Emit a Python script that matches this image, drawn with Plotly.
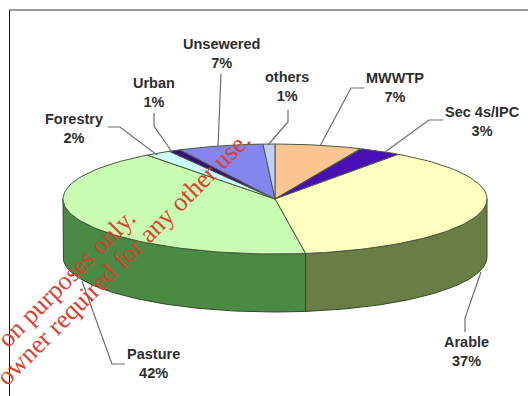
import numpy as np
import plotly.graph_objects as go

# Data, clockwise from the top of the pie
categories = ["MWWTP", "Sec 4s/IPC", "Arable", "Pasture", "Forestry", "Urban", "Unsewered", "others"]
labelled_pct = [7, 3, 37, 42, 2, 1, 7, 1]
slice_shares = [6.6, 3.3, 37.8, 42.0, 2.0, 0.9, 6.5, 0.9]
top_colors = ["#FBC592", "#4A0FB4", "#FFFFC0", "#C8FDB2", "#CCFFFA", "#3A0E78", "#8585F0", "#C4CCF8"]
side_colors = ["#8A6A4A", "#2A0A60", "#6B7D46", "#4A8A44", "#5A8A88", "#200840", "#4A4A88", "#6A7088"]
label_pos = [(395, 87), (482, 121), (466, 351), (153, 363), (74, 128), (154, 92), (221, 53), (287, 86)]
leader_paths = [
    [(364, 88), (351, 88), (320, 146)],
    [(443, 120), (429, 120), (385, 152)],
    [(465, 332), (465, 318), (481, 272)],
    [(125, 364), (112, 364), (82, 281)],
    [(108, 127), (120, 127), (157, 155)],
    [(154, 113), (154, 126), (172, 152)],
    [(221, 74), (218, 147)],
    [(288, 110), (288, 122), (268, 145)],
]

# Pie geometry in page pixels
CX, CY, A, B, DEPTH = 275, 199, 212, 55, 58


def rim(t):
    return CX + A * np.sin(t), CY - B * np.cos(t)


fig = go.Figure()
edges = np.cumsum([0] + slice_shares) / sum(slice_shares) * 2 * np.pi

# Front wall of the cylinder: only the part facing the viewer
for i in range(len(categories)):
    lo, hi = max(edges[i], np.pi / 2), min(edges[i + 1], 3 * np.pi / 2)
    if hi <= lo:
        continue
    t = np.linspace(lo, hi, 80)
    x, y = rim(t)
    fig.add_trace(go.Scatter(
        x=np.r_[x, x[::-1], x[0]], y=np.r_[y, y[::-1] + DEPTH, y[0]],
        mode="lines", fill="toself", fillcolor=side_colors[i],
        line=dict(color="#2F4A2A", width=1), hoverinfo="skip", showlegend=False))

# Top face
for i, name in enumerate(categories):
    t = np.linspace(edges[i], edges[i + 1], 80)
    x, y = rim(t)
    fig.add_trace(go.Scatter(
        x=np.r_[CX, x, CX], y=np.r_[CY, y, CY],
        mode="lines", fill="toself", fillcolor=top_colors[i], name=name,
        line=dict(color="#4A5A40", width=1), hoverinfo="name", showlegend=False))

shapes = [
    dict(type="line", x0=9.5, x1=528, y0=10, y1=10, line=dict(color="#777777", width=1.5)),
    dict(type="line", x0=9.5, x1=9.5, y0=10, y1=396, line=dict(color="#111111", width=1)),
]
for pts in leader_paths:
    path = "M" + " L".join(f"{px},{py}" for px, py in pts)
    shapes.append(dict(type="path", path=path, line=dict(color="#6E6E6E", width=1.2)))

annotations = [
    dict(x=px, y=py, text=f"<b>{n}<br>{v}%</b>", showarrow=False,
         font=dict(family="Liberation Sans", size=14.5, color="#2E2E2E"))
    for n, v, (px, py) in zip(categories, labelled_pct, label_pos)
]
for text, px, py in [("on purposes only.", 66, 278),
                     ("owner required for any other use.", 123, 258)]:
    annotations.append(dict(x=px, y=py, text=text, textangle=-45, showarrow=False,
                            font=dict(family="Liberation Serif", size=26, color="#D8402F")))

fig.update_layout(
    width=528, height=396, margin=dict(l=0, r=0, t=0, b=0),
    paper_bgcolor="white", plot_bgcolor="white",
    xaxis=dict(range=[0, 528], visible=False, fixedrange=True),
    yaxis=dict(range=[396, 0], visible=False, fixedrange=True),
    shapes=shapes, annotations=annotations,
)
fig.write_html("out.html", config=dict(displayModeBar=False),
               post_script="document.body.style.margin='0';")
